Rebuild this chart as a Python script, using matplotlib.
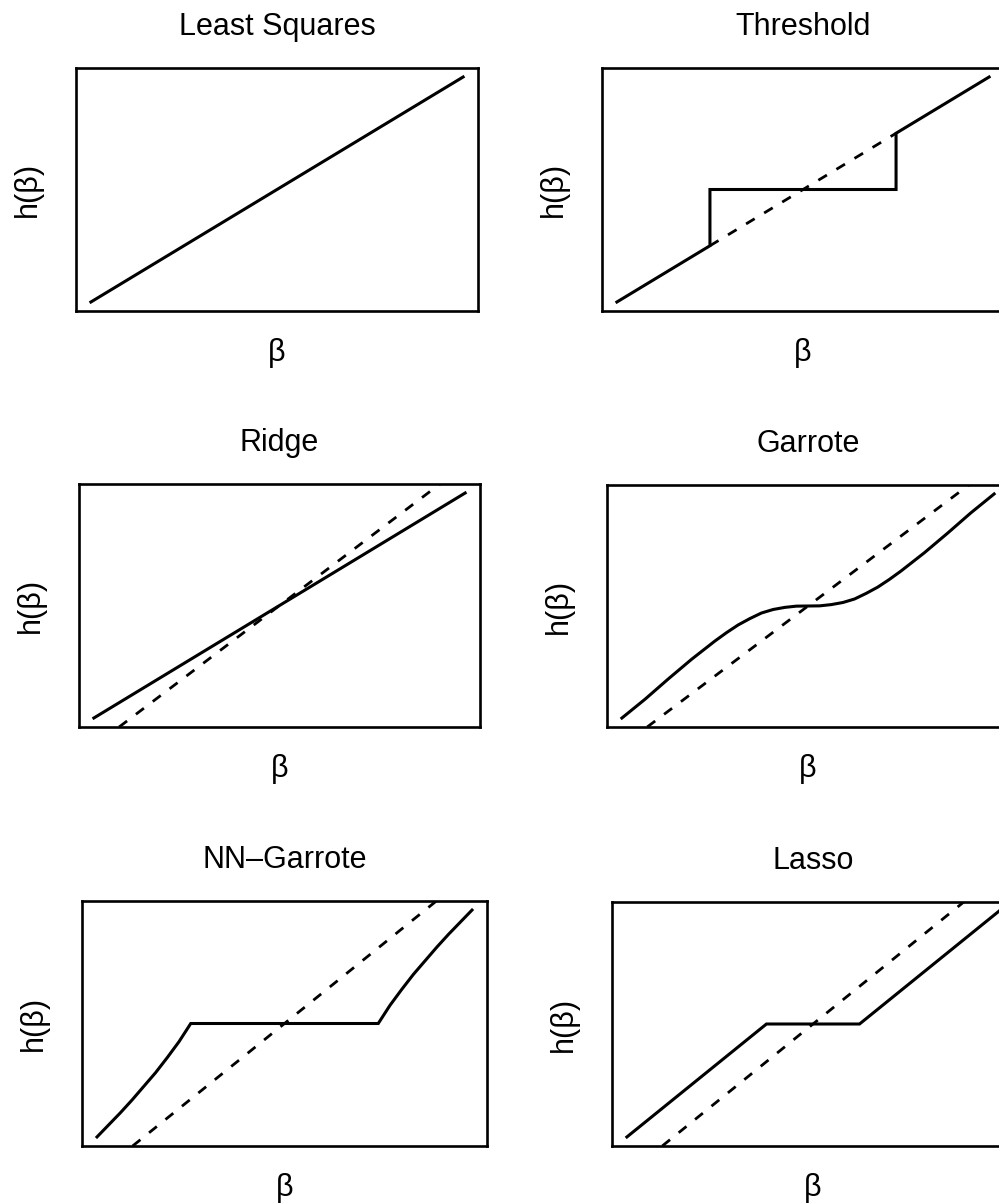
import matplotlib
matplotlib.use("Agg")
import matplotlib.pyplot as plt

plt.rcParams['font.family'] = ['Liberation Sans', 'DejaVu Sans']

# curve values (beta on [-2, 2])
ls_beta = [-2, 2]
ls_h = [-2, 2]

thr_beta = [-2, -1, -1, 1, 1, 2]
thr_h = [-2, -1, 0, 0, 1, 2]
thr_dash_beta = [-1, 1]
thr_dash_h = [-1, 1]

ridge_beta = [-2, 2]
ridge_h = [-1.6, 1.6]

garrote_beta = [-2, -1.75, -1.5, -1.25, -1, -0.875, -0.75, -0.625, -0.5, -0.375, -0.25, -0.125, 0,
                0.125, 0.25, 0.375, 0.5, 0.625, 0.75, 0.875, 1, 1.25, 1.5, 1.75, 2]
garrote_h = [-1.6, -1.33, -1.04, -0.76, -0.5, -0.38, -0.27, -0.18, -0.1, -0.05, -0.02, -0.002, 0,
             0.002, 0.02, 0.05, 0.1, 0.18, 0.27, 0.38, 0.5, 0.76, 1.04, 1.33, 1.6]

nng_beta = [-2, -1.875, -1.75, -1.625, -1.5, -1.375, -1.25, -1.125, -1,
            1, 1.125, 1.25, 1.375, 1.5, 1.625, 1.75, 1.875, 2]
nng_h = [-1.5, -1.34, -1.18, -1.01, -0.83, -0.65, -0.45, -0.24, 0,
         0, 0.24, 0.45, 0.65, 0.83, 1.01, 1.18, 1.34, 1.5]

lasso_beta = [-2, -0.5, 0.5, 2]
lasso_h = [-1.5, 0, 0, 1.5]

titles = ["Least Squares", "Threshold", "Ridge", "Garrote", "NN\u2013Garrote", "Lasso"]

# panel boxes in pixels (x0, y0, x1, y1), measured from top-left
boxes = [(76, 68, 478, 311), (602, 68, 1004, 311),
         (79, 484, 480, 727), (607, 485, 1009, 727),
         (82, 901, 487, 1146), (612, 902, 1014, 1146)]

W, H = 999, 1204
fig = plt.figure(figsize=(W / 100, H / 100), dpi=100)

curves = [(ls_beta, ls_h), (thr_beta, thr_h), (ridge_beta, ridge_h),
          (garrote_beta, garrote_h), (nng_beta, nng_h), (lasso_beta, lasso_h)]

dash = (0, (3.6, 4))
fs = 22

for i, (title, (b, h), box) in enumerate(zip(titles, curves, boxes)):
    x0, y0, x1, y1 = box
    ax = fig.add_axes([x0 / W, 1 - y1 / H, (x1 - x0) / W, (y1 - y0) / H])
    ax.plot(b, h, color='black', lw=2.2, zorder=3, solid_joinstyle='miter')
    ax.margins(0.04)
    if i == 1:
        ax.plot(thr_dash_beta, thr_dash_h, color='black', lw=2.0, linestyle=dash, zorder=2)
    elif i >= 2:
        ax.axline((0, 0), (1, 1), color='black', lw=2.0, linestyle=dash, zorder=2)
    ax.set_xticks([])
    ax.set_yticks([])
    for sp in ax.spines.values():
        sp.set_linewidth(1.9)
    ax.set_title(title, fontsize=fs, pad=24)
    ax.annotate("\u03b2", xy=(0.5, 0), xycoords='axes fraction', xytext=(0, -30),
                textcoords='offset points', ha='center', va='center', fontsize=fs)
    ax.annotate("h(\u03b2)", xy=(0, 0.5), xycoords='axes fraction', xytext=(-34.5, 0),
                textcoords='offset points', ha='center', va='center', fontsize=fs,
                rotation=90)

fig.savefig("out.png", dpi=100, facecolor='white')
